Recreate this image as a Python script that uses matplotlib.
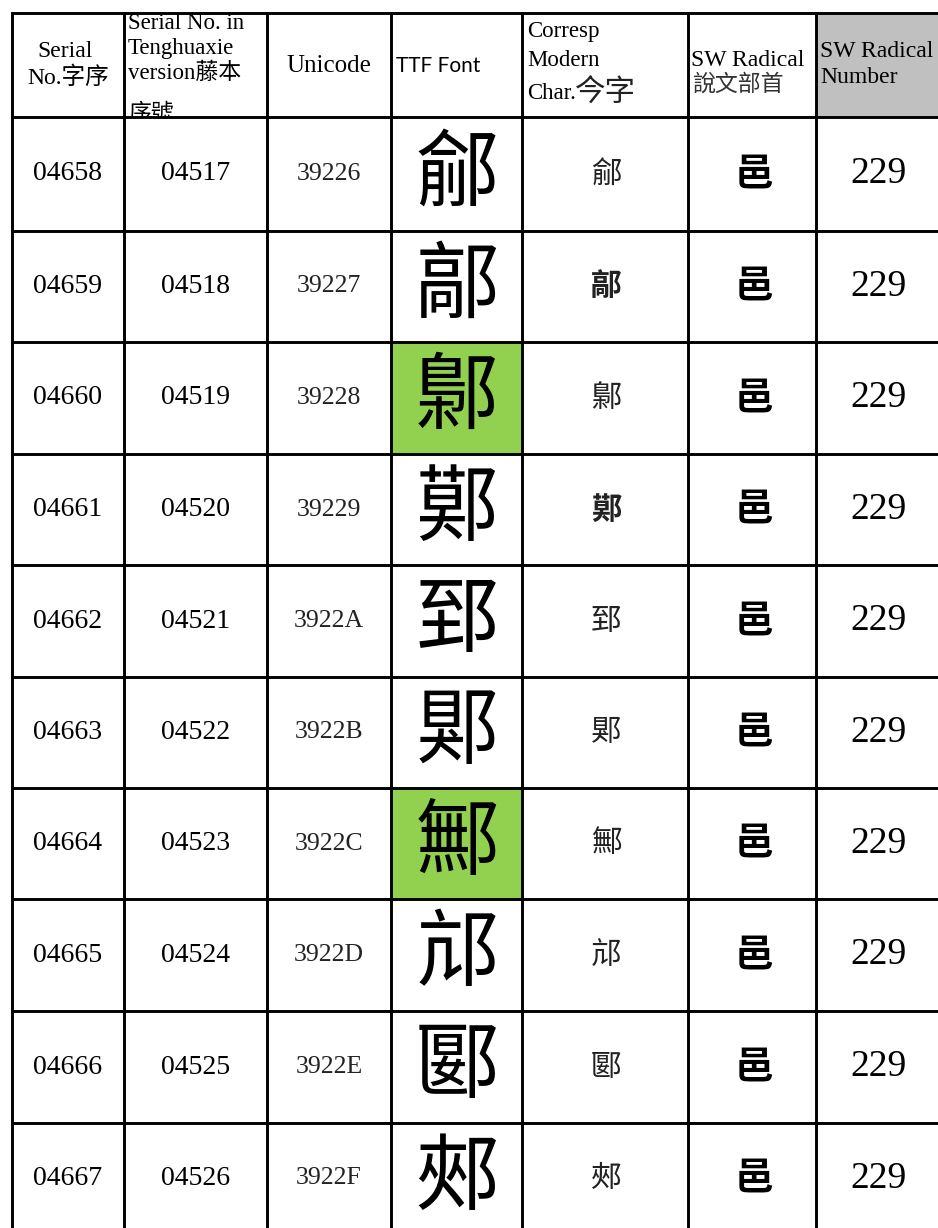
import matplotlib.pyplot as plt
from matplotlib.patches import Rectangle
from matplotlib.transforms import Bbox, TransformedBbox

# datos de la tabla
serial = ['04658', '04659', '04660', '04661', '04662',
          '04663', '04664', '04665', '04666', '04667']
teng = ['04517', '04518', '04519', '04520', '04521',
        '04522', '04523', '04524', '04525', '04526']
ucode = ['39226', '39227', '39228', '39229', '3922A',
         '3922B', '3922C', '3922D', '3922E', '3922F']
modern = ['鄃', '鄗', '鄡', '鄚', '郅', '郹', '鄦', '邟', '郾', '郟']
radical = ['邑'] * 10
radical_num = [229] * 10
highlight = [False, False, True, False, False, False, True, False, False, False]
bold_modern = [False, True, False, True, False, False, False, False, False, False]

W, H = 938, 1228
fig = plt.figure(figsize=(W / 100, H / 100), dpi=100)
ax = fig.add_axes([0, 0, 1, 1])
ax.set_xlim(0, W)
ax.set_ylim(H, 0)
ax.axis('off')

# geometría en píxeles
col_x = [12, 124, 267, 391, 522, 688, 816, 960]
top, head_bot = 13, 117
row_y = [head_bot, 231, 342, 454, 565, 677, 788, 899, 1011, 1123, 1234]
centers = [68, 196, 329, 457, 606, 754, 878]

serif = ['Liberation Serif', 'Noto Sans CJK TC']
cjk = ['Noto Sans CJK TC', 'DejaVu Sans']

# fondos
ax.add_patch(Rectangle((col_x[6], top), W - col_x[6], head_bot - top,
                       facecolor='#C0C0C0', edgecolor='none', zorder=0))
for i, hl in enumerate(highlight):
    if hl:
        ax.add_patch(Rectangle((col_x[3], row_y[i]), col_x[4] - col_x[3],
                               row_y[i + 1] - row_y[i],
                               facecolor='#92D050', edgecolor='none', zorder=0))

# líneas de la tabla
lw = 2.1
for y in [top] + row_y[:-1]:
    ax.plot([col_x[0], W], [y, y], color='black', lw=lw, zorder=5,
            solid_capstyle='projecting')
for x in col_x[:-1]:
    ax.plot([x, x], [top, H], color='black', lw=lw, zorder=5)

# encabezado
ax.text(65, 57, 'Serial', family=serif, fontsize=17,
        ha='center', va='baseline')
ax.text(68, 84, 'No.字序', family=serif, fontsize=17,
        ha='center', va='baseline')

# la celda 2 recorta su texto (el último renglón queda cortado)
cell2 = TransformedBbox(Bbox([[col_x[1], top], [col_x[2], head_bot]]),
                        ax.transData)
for txt, yb in zip(['Serial No. in', 'Tenghuaxie', 'version藤本', '序號'],
                   [29, 54, 79, 120]):
    t = ax.text(col_x[1] + 4, yb, txt, family=serif, fontsize=16.5,
                ha='left', va='baseline', zorder=1)
    t.set_clip_box(cell2)
    t.set_clip_on(True)

ax.text(centers[2], 72, 'Unicode', family=serif, fontsize=18,
        ha='center', va='baseline')
ax.text(col_x[3] + 5, 66, 'TTF Font', family=['Lato', 'DejaVu Sans'],
        fontsize=15, ha='left', va='center')
ax.text(col_x[4] + 5, 37, 'Corresp', family=serif, fontsize=16.5,
        ha='left', va='baseline')
ax.text(col_x[4] + 5, 66, 'Modern', family=serif, fontsize=16.5,
        ha='left', va='baseline')
ax.text(col_x[4] + 5, 99, 'Char.', family=serif, fontsize=16.5,
        ha='left', va='baseline')
ax.text(col_x[4] + 53, 101, '今字', family=cjk, fontsize=22,
        ha='left', va='baseline', color='#222222')
ax.text(col_x[5] + 3, 66, 'SW Radical', family=serif, fontsize=17,
        ha='left', va='baseline')
ax.text(col_x[5] + 4, 91, '說文部首', family=cjk, fontsize=16.5,
        ha='left', va='baseline', color='#333333')
ax.text(col_x[6] + 4, 57, 'SW Radical', family=serif, fontsize=17,
        ha='left', va='baseline')
ax.text(col_x[6] + 4, 83, 'Number', family=serif, fontsize=17,
        ha='left', va='baseline')

# filas
for i in range(len(serial)):
    cy = (row_y[i] + row_y[i + 1]) / 2
    ax.text(centers[0], cy, serial[i], family=serif, fontsize=20,
            ha='center', va='center')
    ax.text(centers[1], cy, teng[i], family=serif, fontsize=20,
            ha='center', va='center')
    ax.text(centers[2], cy, ucode[i], family=serif, fontsize=18.5,
            ha='center', va='center', color='#222222')
    ax.text(centers[3], cy, modern[i], family=cjk, fontsize=60,
            ha='center', va='center')
    ax.text(centers[4], cy, modern[i], family=cjk, fontsize=22,
            ha='center', va='center', color='#222222',
            fontweight='bold' if bold_modern[i] else 'normal')
    ax.text(centers[5], cy, radical[i], family=cjk, fontsize=28,
            ha='center', va='center', fontweight='bold')
    ax.text(centers[6], cy, str(radical_num[i]), family=serif, fontsize=27,
            ha='center', va='center')

fig.savefig('out.png', dpi=100)
